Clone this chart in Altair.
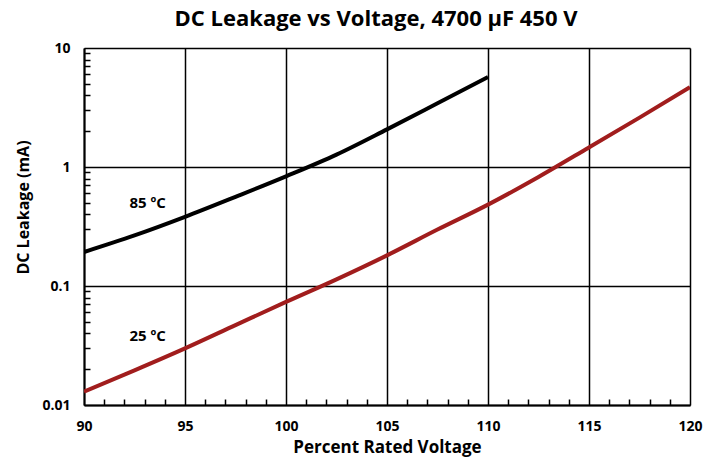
import altair as alt
import pandas as pd

# Percent rated voltage sample points
volt_85 = [90, 92.5, 95, 97.5, 100, 102.5, 105, 107.5, 110]
leak_85 = [0.193, 0.266, 0.381, 0.561, 0.834, 1.27, 2.07, 3.43, 5.70]

volt_25 = [90, 92.5, 95, 97.5, 100, 102.5, 105, 107.5, 110, 112.5, 115, 117.5, 120]
leak_25 = [0.01295, 0.01955, 0.0299, 0.0469, 0.0735, 0.1138, 0.181, 0.298, 0.483, 0.824, 1.46, 2.60, 4.68]

series_names = ["85 ºC", "25 ºC"]
series_colors = ["#000000", "#a11d1d"]

label_x = [93.15, 93.15]
label_y = [0.50, 0.0381]

x_ticks = list(range(90, 121))
y_ticks = [m * d for d in (0.01, 0.1, 1) for m in range(1, 10)] + [10]

FONT = "Liberation Sans Narrow, Open Sans, sans-serif"

df = pd.concat([
    pd.DataFrame({"v": volt_85, "leak": leak_85, "series": series_names[0]}),
    pd.DataFrame({"v": volt_25, "leak": leak_25, "series": series_names[1]}),
])
labels = pd.DataFrame({"v": label_x, "leak": label_y, "text": series_names})

xscale = alt.Scale(domain=[90, 120], nice=False, zero=False)
yscale = alt.Scale(type="log", domain=[0.01, 10], nice=False)

x_major = "datum.value % 5 === 0"
y_major = "abs(log(datum.value) / LN10 - round(log(datum.value) / LN10)) < 0.000001"

lines = alt.Chart(df).mark_line(strokeWidth=4, interpolate="monotone", clip=True).encode(
    x=alt.X("v:Q", scale=xscale, axis=alt.Axis(
        orient="bottom",
        values=x_ticks, tickCount=200, grid=True, gridColor="black", gridWidth=1.5, gridOpacity=1,
        gridDash=alt.condition(x_major, alt.value([]), alt.value([0, 351, 6, 1000])),
        tickSize=0, domainColor="black", domainWidth=2,
        labelExpr=f"{x_major} ? format(datum.value, 'd') : ''",
        labelFont=FONT, labelFontSize=14, labelFontWeight="bold", labelColor="black",
        labelPadding=14, labelFlush=False, labelOverlap=False,
        title="Percent Rated Voltage", titleFont=FONT, titleFontSize=17, titleFontWeight="bold",
        titleColor="black", titleBaseline="middle", titleY=42)),
    y=alt.Y("leak:Q", scale=yscale, axis=alt.Axis(
        orient="left",
        values=y_ticks, tickCount=200, grid=True, gridColor="black", gridWidth=1.5, gridOpacity=1,
        gridDash=alt.condition(y_major, alt.value([]), alt.value([6, 1000])),
        tickSize=0, domainColor="black", domainWidth=2,
        labelExpr=f"{y_major} ? (datum.value >= 1 ? format(datum.value, 'd') : format(datum.value, '.2~f')) : ''",
        labelFont=FONT, labelFontSize=14, labelFontWeight="bold", labelColor="black",
        labelPadding=14, labelFlush=False, labelOverlap=False,
        title="DC Leakage (mA)", titleFont=FONT, titleFontSize=16, titleFontWeight="bold",
        titleColor="black", titleBaseline="middle", titleAngle=270, titleX=-61, titleY=159)),
    color=alt.Color("series:N", scale=alt.Scale(domain=series_names, range=series_colors), legend=None),
    detail="series:N",
)

text = alt.Chart(labels).mark_text(font=FONT, fontSize=15, fontWeight="bold", color="black").encode(
    x=alt.X("v:Q", scale=xscale),
    y=alt.Y("leak:Q", scale=yscale),
    text="text:N",
)

chart = alt.layer(lines, text).properties(
    width=606, height=357,
    autosize=alt.AutoSizeParams(type="none"),
    padding={"left": 76, "top": 40, "right": 19, "bottom": 56},
    title=alt.TitleParams("DC Leakage vs Voltage, 4700 µF 450 V", font=FONT, fontSize=22,
                          fontWeight="bold", color="black", anchor="middle", frame="group",
                          dx=-11, dy=26, baseline="bottom", offset=14),
).configure_view(stroke="black", strokeWidth=2).configure(background="white")

chart.save("out.html", embed_options={"renderer": "svg", "actions": False})
